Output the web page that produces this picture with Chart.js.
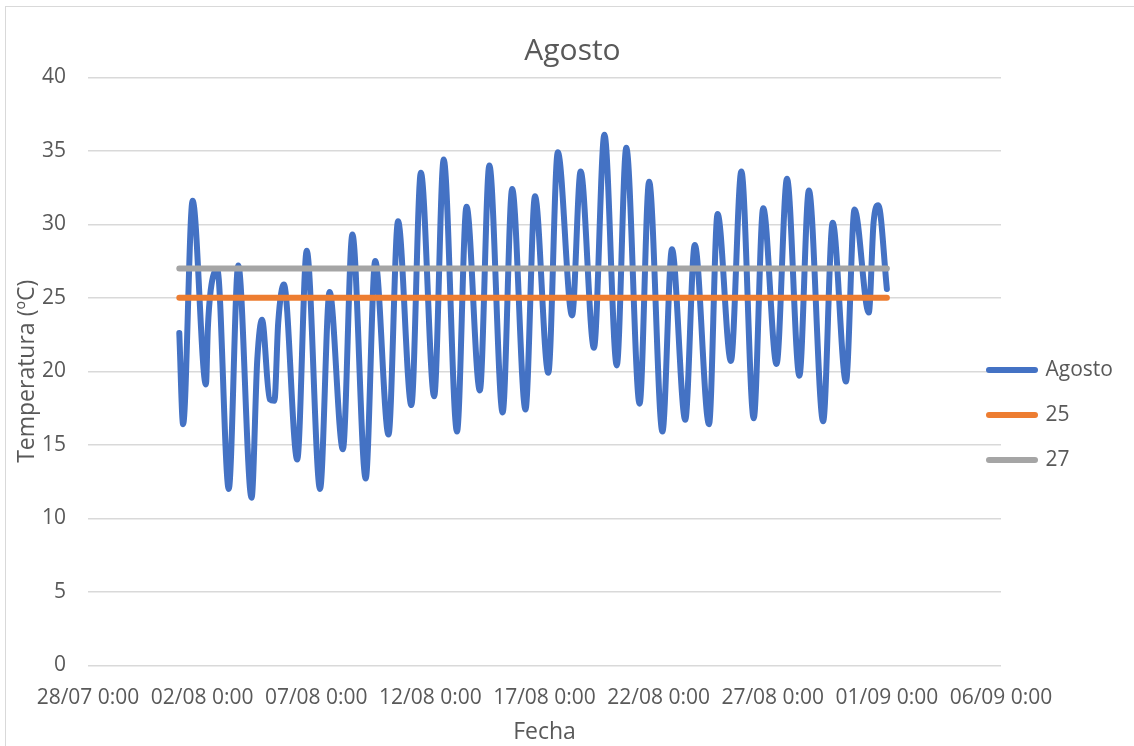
<!DOCTYPE html>
<html lang="es">
<head>
<meta charset="utf-8">
<title>Agosto</title>
<script src="https://cdn.jsdelivr.net/npm/chart.js@4.4.0/dist/chart.umd.min.js"></script>
<style>
  html, body { margin: 0; padding: 0; background: #ffffff; overflow: hidden; }
  #wrap { position: relative; width: 1134px; height: 746px; }
  #marco { position: absolute; left: 5px; top: 6px; width: 1200px; height: 800px;
           border: 1.5px solid #d9d9d9; box-sizing: border-box; pointer-events: none; }
  canvas { position: absolute; left: 0; top: 0; }
</style>
</head>
<body>
<div id="wrap">
  <div id="marco"></div>
  <canvas id="grafico" width="1134" height="746"></canvas>
</div>
<script>
// Temperatura registrada en agosto (máximas y mínimas diarias aproximadas)
const fechas = [
  '2019-08-01T00:00', '2019-08-01T04:00', '2019-08-01T14:00',
  '2019-08-02T04:00', '2019-08-02T06:00', '2019-08-02T09:00', '2019-08-02T16:00',
  '2019-08-03T04:00', '2019-08-03T14:00',
  '2019-08-04T04:00', '2019-08-04T10:00', '2019-08-04T15:00', '2019-08-04T23:00',
  '2019-08-05T04:00', '2019-08-05T08:00', '2019-08-05T14:00',
  '2019-08-06T04:00', '2019-08-06T14:00',
  '2019-08-07T04:00', '2019-08-07T14:00',
  '2019-08-08T04:00', '2019-08-08T14:00',
  '2019-08-09T04:00', '2019-08-09T14:00',
  '2019-08-10T04:00', '2019-08-10T14:00',
  '2019-08-11T04:00', '2019-08-11T14:00',
  '2019-08-12T04:00', '2019-08-12T14:00',
  '2019-08-13T04:00', '2019-08-13T14:00',
  '2019-08-14T04:00', '2019-08-14T14:00',
  '2019-08-15T04:00', '2019-08-15T14:00',
  '2019-08-16T04:00', '2019-08-16T14:00',
  '2019-08-17T04:00', '2019-08-17T14:00',
  '2019-08-18T05:00', '2019-08-18T14:00',
  '2019-08-19T04:00', '2019-08-19T15:00',
  '2019-08-20T04:00', '2019-08-20T14:00',
  '2019-08-21T04:00', '2019-08-21T14:00',
  '2019-08-22T04:00', '2019-08-22T14:00',
  '2019-08-23T04:00', '2019-08-23T14:00',
  '2019-08-24T05:00', '2019-08-24T14:00',
  '2019-08-25T04:00', '2019-08-25T15:00',
  '2019-08-26T04:00', '2019-08-26T14:00',
  '2019-08-27T04:00', '2019-08-27T15:00',
  '2019-08-28T04:00', '2019-08-28T14:00',
  '2019-08-29T05:00', '2019-08-29T15:00',
  '2019-08-30T05:00', '2019-08-30T14:00',
  '2019-08-31T05:00', '2019-08-31T10:00', '2019-08-31T15:00',
  '2019-09-01T00:00'
];
const temperaturas = [
  22.6, 16.4, 31.6,
  19.1, 22.9, 25.5, 26.9,
  12.0, 27.2,
  11.4, 20.8, 23.5, 18.1,
  18.0, 23.3, 25.9,
  14.0, 28.2,
  12.0, 25.4,
  14.7, 29.3,
  12.7, 27.5,
  15.7, 30.2,
  17.7, 33.5,
  18.3, 34.4,
  15.9, 31.2,
  18.7, 34.0,
  17.2, 32.4,
  17.4, 31.9,
  19.9, 34.9,
  23.8, 33.6,
  21.6, 36.1,
  20.4, 35.2,
  17.8, 32.9,
  15.9, 28.3,
  16.7, 28.6,
  16.4, 30.7,
  20.7, 33.6,
  16.8, 31.1,
  20.5, 33.1,
  19.7, 32.3,
  16.6, 30.1,
  19.3, 31.0,
  24.0, 30.1, 31.3,
  25.6
];

// Umbrales de referencia (25 y 27 ºC) durante todo el mes
const fechasUmbral = ['2019-08-01T00:00', '2019-09-01T00:00'];
const umbral25 = [25, 25];
const umbral27 = [27, 27];

// Eje de fechas: desde el 28/07 hasta el 06/09, marcas cada 5 días
const inicioEje = '2019-07-28T00:00';
const finEje = '2019-09-06T00:00';
const pasoDias = 5;

// Eje de temperatura
const tempMin = 0;
const tempMax = 40;
const tempPaso = 5;

const DIA_MS = 86400000;
const origen = Date.parse(inicioEje + 'Z');
const aDias = f => (Date.parse(f + 'Z') - origen) / DIA_MS;
const dos = n => String(n).padStart(2, '0');
const etiquetaFecha = v => {
  const d = new Date(origen + v * DIA_MS);
  return dos(d.getUTCDate()) + '/' + dos(d.getUTCMonth() + 1) + ' ' +
         d.getUTCHours() + ':' + dos(d.getUTCMinutes());
};
const puntos = (xs, ys) => xs.map((f, i) => ({ x: aDias(f), y: ys[i] }));

const FUENTE = "'Open Sans', sans-serif";
const GRIS_TEXTO = '#595959';

// Coloca la leyenda junto al borde derecho del área de trazado
const ajusteLeyenda = {
  id: 'ajusteLeyenda',
  afterLayout(chart) {
    const lg = chart.legend;
    if (!lg) return;
    lg.left -= 36;
    lg.top += 42; lg.bottom += 42;
  }
};

const serie = (label, data, color, order) => ({
  label, data, order,
  borderColor: color,
  backgroundColor: color,
  borderWidth: 6,
  borderCapStyle: 'round',
  borderJoinStyle: 'round',
  pointRadius: 0,
  pointHoverRadius: 0,
  cubicInterpolationMode: 'monotone',
  fill: false
});

new Chart(document.getElementById('grafico'), {
  type: 'line',
  data: {
    datasets: [
      serie('Agosto', puntos(fechas, temperaturas), '#4472C4', 3),
      serie('25', puntos(fechasUmbral, umbral25), '#ED7D31', 2),
      serie('27', puntos(fechasUmbral, umbral27), '#A5A5A5', 1)
    ]
  },
  options: {
    responsive: false,
    animation: false,
    devicePixelRatio: 1,
    layout: { padding: { left: 11, top: 0, right: 0, bottom: 0 } },
    plugins: {
      title: {
        display: true,
        text: 'Agosto',
        color: GRIS_TEXTO,
        font: { family: FUENTE, size: 30, weight: 'normal' },
        padding: { top: 33, bottom: 8.3 }
      },
      legend: {
        position: 'right',
        maxWidth: 133,
        labels: {
          usePointStyle: true,
          pointStyle: 'line',
          pointStyleWidth: 46,
          padding: 24,
          color: GRIS_TEXTO,
          font: { family: FUENTE, size: 21 },
          sort: (a, b) => a.datasetIndex - b.datasetIndex,
          generateLabels(chart) {
            const items = Chart.defaults.plugins.legend.labels.generateLabels(chart);
            items.forEach(it => {
              it.pointStyle = 'line';
              it.lineCap = 'round';
              it.lineWidth = 6;
            });
            return items;
          }
        }
      },
      tooltip: { enabled: false }
    },
    scales: {
      x: {
        type: 'linear',
        min: aDias(inicioEje),
        max: aDias(finEje),
        afterFit: s => { s.height = 80.7; },
        grid: { display: false },
        border: { display: false },
        ticks: {
          stepSize: pasoDias,
          autoSkip: false,
          maxRotation: 0,
          minRotation: 0,
          padding: 12,
          color: GRIS_TEXTO,
          font: { family: FUENTE, size: 21 },
          callback: v => etiquetaFecha(v)
        },
        title: {
          display: true,
          text: 'Fecha',
          color: GRIS_TEXTO,
          font: { family: FUENTE, size: 23 },
          padding: { top: 0, bottom: 0 }
        }
      },
      y: {
        min: tempMin,
        max: tempMax,
        afterFit: s => { s.width = 77; },
        grid: { color: '#d9d9d9', lineWidth: 1.5, drawTicks: false },
        border: { display: false },
        ticks: {
          stepSize: tempPaso,
          padding: 22,
          color: GRIS_TEXTO,
          font: { family: FUENTE, size: 21 }
        },
        title: {
          display: true,
          text: 'Temperatura (ºC)',
          color: GRIS_TEXTO,
          font: { family: FUENTE, size: 23 },
          padding: { top: 2.2, bottom: 0 }
        }
      }
    }
  },
  plugins: [ajusteLeyenda]
});
</script>
</body>
</html>
